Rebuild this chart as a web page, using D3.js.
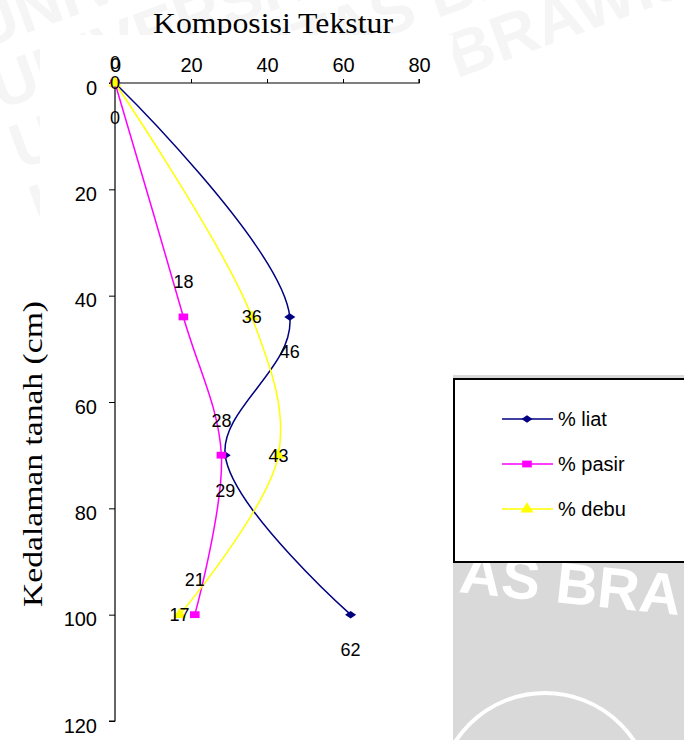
<!DOCTYPE html>
<html>
<head>
<meta charset="utf-8">
<script src="https://cdn.jsdelivr.net/npm/d3@7"></script>
<style>
  body { margin: 0; background: #fff; }
  svg { display: block; }
</style>
</head>
<body>
<div id="chart"></div>
<script>
// depth profile data
const depths = [0, 44, 70, 100];
const liat = [0, 46, 29, 62];
const pasir = [0, 18, 28, 21];
const debu = [0, 36, 43, 17];
const seriesNames = ["% liat", "% pasir", "% debu"];
const xTicks = [0, 20, 40, 60, 80];
const yTicks = [0, 20, 40, 60, 80, 100, 120];

const width = 684, height = 740;
const sans = "Arial, 'Liberation Sans', sans-serif";
const serif = "'Times New Roman', 'Liberation Serif', serif";

const svg = d3.select("#chart")
    .append("svg")
    .attr("width", width)
    .attr("height", height);

// faint page watermark behind the chart
const wm = svg.append("g")
    .attr("fill", "#f5f5f5")
    .attr("font-family", sans)
    .attr("font-weight", "bold")
    .attr("font-size", 64);
d3.range(0, 4).forEach(i => {
  wm.append("text")
    .attr("transform", `translate(${-20 + i * 20},${50 + i * 60}) rotate(-20)`)
    .text("UNIVERSITAS BRAWIJAYA UNIVERSITAS");
});

// title (its descenders get covered by the plot area below, like the source)
svg.append("text")
    .attr("x", 273).attr("y", 33)
    .attr("text-anchor", "middle")
    .attr("font-family", serif)
    .attr("font-size", 29)
    .attr("textLength", 240)
    .attr("lengthAdjust", "spacingAndGlyphs")
    .text("Komposisi Tekstur");

// white chart area and blank right strip
svg.append("rect").attr("x", 40).attr("y", 35).attr("width", 413).attr("height", 705).attr("fill", "#fff");
svg.append("rect").attr("x", 453).attr("y", 240).attr("width", 231).attr("height", 135).attr("fill", "#fff");

// grey block behind the legend
svg.append("rect").attr("x", 453).attr("y", 375).attr("width", 231).attr("height", 365).attr("fill", "#d9d9d9");
svg.append("text")
    .attr("transform", "translate(458,592) rotate(6)")
    .attr("font-family", sans).attr("font-weight", "bold").attr("font-size", 58)
    .attr("fill", "#fff")
    .text("AS BRA");
svg.append("circle").attr("cx", 545).attr("cy", 800).attr("r", 107)
    .attr("fill", "none").attr("stroke", "#fff").attr("stroke-width", 4);

const x = d3.scaleLinear().domain([0, 80]).range([115, 419]);
const y = d3.scaleLinear().domain([0, 120]).range([83, 721]);

svg.append("text")
    .attr("transform", "translate(42,454) rotate(-90)")
    .attr("text-anchor", "middle")
    .attr("font-family", serif)
    .attr("font-size", 28)
    .attr("textLength", 306)
    .attr("lengthAdjust", "spacingAndGlyphs")
    .text("Kedalaman tanah  (cm)");

// axes
const xAxis = svg.append("g")
    .attr("transform", `translate(0,${y(0)})`)
    .call(d3.axisTop(x).tickValues(xTicks).tickSize(4).tickPadding(7));
const yAxis = svg.append("g")
    .attr("transform", `translate(${x(0)},0)`)
    .call(d3.axisLeft(y).tickValues(yTicks).tickSize(6).tickPadding(12));
[xAxis, yAxis].forEach(a => {
  a.select(".domain").attr("stroke", "#000").attr("stroke-width", 1.2);
  a.selectAll(".tick line").attr("stroke", "#000");
  a.selectAll("text")
    .attr("font-family", sans)
    .attr("font-size", 20)
    .attr("fill", "#000");
});
xAxis.select(".domain").attr("d", `M${x(0)},-4V0H${x(80)}V-4`);
yAxis.select(".domain").attr("d", `M-6,${y(0)}H0V${y(120)}H-6`);
yAxis.selectAll(".tick text").attr("dy", "0.55em");

const line = d3.line()
    .x(d => x(d[0]))
    .y(d => y(d[1]))
    .curve(d3.curveCatmullRom.alpha(0.5));

const series = [
  {name: seriesNames[0], values: liat, color: "#000080", symbol: d3.symbolDiamond2, size: 50, sx: 1.25, sy: 0.85, labelDy: 35},
  {name: seriesNames[1], values: pasir, color: "#ff00ff", symbol: d3.symbolSquare, size: 64, sx: 1.2, sy: 0.85, labelDy: -35},
  {name: seriesNames[2], values: debu, color: "#ffff00", symbol: d3.symbolTriangle, size: 60, sx: 1.1, sy: 1, labelDy: 0}
];

series.forEach(s => {
  const pts = s.values.map((v, i) => [v, depths[i]]);
  svg.append("path")
    .datum(pts)
    .attr("d", line)
    .attr("fill", "none")
    .attr("stroke", s.color)
    .attr("stroke-width", 1.5);
  svg.selectAll(null)
    .data(pts)
    .join("path")
    .attr("transform", d => `translate(${x(d[0])},${y(d[1])}) scale(${s.sx},${s.sy})`)
    .attr("d", d3.symbol().type(s.symbol).size(s.size))
    .attr("fill", s.color);
});

// data labels, kept inside the chart area at the top
series.forEach(s => {
  svg.selectAll(null)
    .data(s.values.map((v, i) => [v, depths[i]]))
    .join("text")
    .attr("x", d => x(d[0]))
    .attr("y", d => Math.max(y(d[1]) + s.labelDy, 63))
    .attr("dy", "0.36em")
    .attr("text-anchor", "middle")
    .attr("font-family", sans)
    .attr("font-size", 18)
    .attr("fill", "#000")
    .text(d => d[0]);
});

// legend
const legend = svg.append("g");
legend.append("rect")
    .attr("x", 454).attr("y", 379)
    .attr("width", 240).attr("height", 183)
    .attr("fill", "#fff")
    .attr("stroke", "#000")
    .attr("stroke-width", 2);
series.forEach((s, i) => {
  const ly = 419 + i * 45;
  legend.append("line")
    .attr("x1", 502).attr("x2", 553)
    .attr("y1", ly).attr("y2", ly)
    .attr("stroke", s.color).attr("stroke-width", 1.5);
  legend.append("path")
    .attr("transform", `translate(527,${ly}) scale(${s.sx},${s.sy})`)
    .attr("d", d3.symbol().type(s.symbol).size(s.size))
    .attr("fill", s.color);
  legend.append("text")
    .attr("x", 558).attr("y", ly)
    .attr("dy", "0.36em")
    .attr("font-family", sans)
    .attr("font-size", 20)
    .text(s.name);
});
</script>
</body>
</html>
